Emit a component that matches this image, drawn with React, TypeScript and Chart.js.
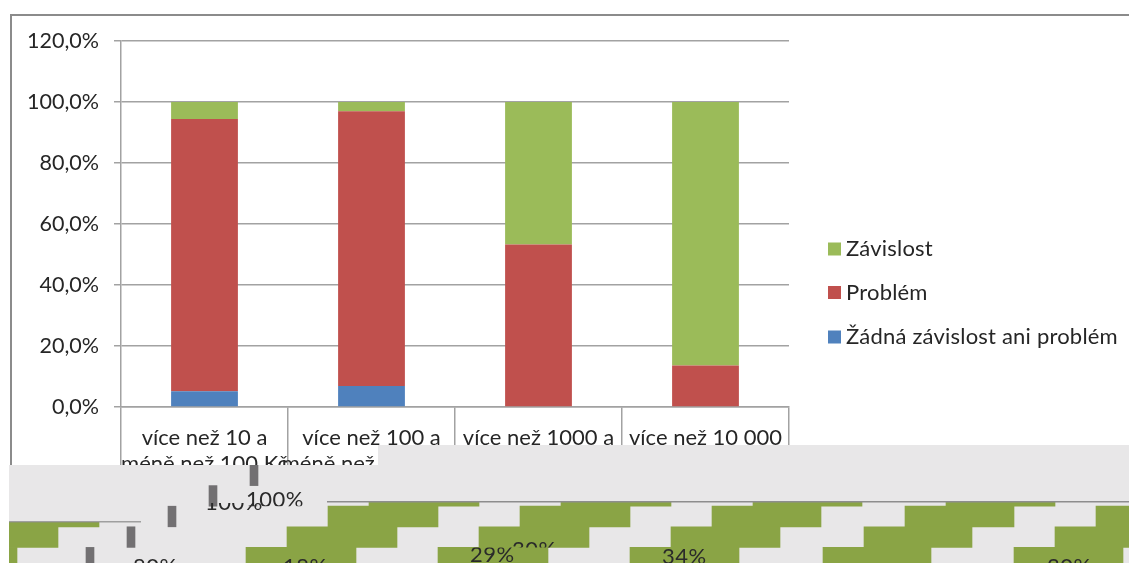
import React, { useEffect, useRef } from "react";
import { Chart, registerables } from "chart.js";

Chart.register(...registerables);

const categories = [
  ["více než 10 a", "méně než 100 Kč"],
  ["více než 100 a", "méně než 1000 Kč"],
  ["více než 1000 a", "méně než 10 000 Kč"],
  ["více než 10 000", "Kč"],
];
const noDependency = [5.2, 6.9, 0, 0];
const problem = [89.2, 90.1, 53.3, 13.6];
const dependency = [5.6, 3.0, 46.7, 86.4];

// Lower strip: stepped green blocks per row, as [from, to] ranges on the strip's axis.
const stripRows = ["r0", "r1", "r2", "r3", "r4"];
const stepsRow1 = [[369, 479], [561, 671], [753, 862], [946, 1055]];
const stepsRow2 = [[9, 99], [328, 438], [520, 630], [712, 821], [905, 1014], [1096, 1129]];
const stepsRow3 = [[9, 58], [287, 397], [479, 589], [671, 780], [864, 972], [1055, 1129]];
const stepsRow4 = [[9, 17], [246, 356], [438, 548], [630, 739], [823, 931], [1014, 1123]];
const markers = [[250, 258], [209, 217], [168, 176], [127, 135], [86, 94]];
const stripCaptions = ["100%", "100%", "80%", "18%", "29%", "30%", "34%", "30%"];

const FONT = "Lato";
const TEXT = "#262626";
const LINE = "#a2a2a2";

const captionSpots = [
  { x: 205, base: 510, top: 503, bottom: 563 },
  { x: 246, base: 507, top: 465, bottom: 506.2 },
  { x: 133, base: 574, top: 465, bottom: 563 },
  { x: 283, base: 574, top: 465, bottom: 563 },
  { x: 470, base: 562, top: 547.4, bottom: 563 },
  { x: 512, base: 557, top: 465, bottom: 547.4 },
  { x: 662, base: 564, top: 465, bottom: 563 },
  { x: 1047, base: 574, top: 465, bottom: 563 },
];

const legendPlugin = {
  id: "sideLegend",
  afterDraw(chart: any) {
    const { ctx } = chart;
    const rows = [249, 292.5, 337];
    const sets = [...chart.data.datasets].reverse();
    ctx.save();
    ctx.font = `22px ${FONT}`;
    ctx.textBaseline = "middle";
    ctx.textAlign = "left";
    (ctx as any).letterSpacing = "0.2px";
    sets.forEach((set: any, i: number) => {
      ctx.fillStyle = set.backgroundColor;
      ctx.fillRect(828, rows[i] - 6.5, 13, 13);
      ctx.fillStyle = TEXT;
      ctx.fillText(set.label, 846, rows[i]);
    });
    ctx.restore();
  },
};

const stripOverlay = {
  id: "stripOverlay",
  afterDatasetsDraw(chart: any) {
    const { ctx } = chart;
    const sx = chart.scales.x;
    const top = 465;
    const grey = "#e8e7e8";
    const rule = "#8d8d8d";
    ctx.save();
    // Upper bands hide the top of the stepped rows.
    ctx.fillStyle = grey;
    ctx.fillRect(sx.getPixelForValue(327), 0, chart.width, 502 - top);
    ctx.fillRect(sx.getPixelForValue(9), 505 - top, sx.getPixelForValue(141), 522 - 505);
    ctx.fillStyle = rule;
    ctx.fillRect(sx.getPixelForValue(327), 501 - top, chart.width, 1.5);
    ctx.fillRect(sx.getPixelForValue(9), 521.2 - top, sx.getPixelForValue(141), 1.2);
    ctx.restore();

    ctx.save();
    ctx.font = `22px ${FONT}`;
    ctx.fillStyle = "#2a2a2a";
    ctx.textAlign = "left";
    ctx.textBaseline = "alphabetic";
    (ctx as any).letterSpacing = "0.5px";
    stripCaptions.forEach((text, i) => {
      const s = captionSpots[i];
      ctx.save();
      ctx.beginPath();
      ctx.rect(0, s.top - top, chart.width, s.bottom - s.top);
      ctx.clip();
      ctx.fillText(text, sx.getPixelForValue(s.x), s.base - top);
      ctx.restore();
    });
    ctx.restore();
  },
};

const toItems = (row: string, ranges: number[][]) => ranges.map((r) => ({ x: r, y: row }));

export default function App() {
  const mainRef = useRef<HTMLCanvasElement>(null);
  const stripRef = useRef<HTMLCanvasElement>(null);

  useEffect(() => {
    const main = new Chart(mainRef.current!, {
      type: "bar",
      data: {
        labels: categories as any,
        datasets: [
          { label: "Žádná závislost ani problém", data: noDependency, backgroundColor: "#4f81bd" },
          { label: "Problém", data: problem, backgroundColor: "#c0504d" },
          { label: "Závislost", data: dependency, backgroundColor: "#9bbb59" },
        ],
      },
      options: {
        responsive: false,
        animation: false,
        layout: { padding: { top: 41, right: 340, left: 0, bottom: 0 } },
        datasets: { bar: { categoryPercentage: 0.4, barPercentage: 1 } },
        plugins: { legend: { display: false }, tooltip: { enabled: false } },
        scales: {
          x: {
            stacked: true,
            border: { color: LINE, width: 1.5 },
            grid: { drawOnChartArea: false, color: LINE, lineWidth: 1.5, tickLength: 70, offset: true },
            ticks: {
              padding: -53,
              color: TEXT,
              font: { family: FONT, size: 22, lineHeight: 1.22 },
              maxRotation: 0,
              minRotation: 0,
              autoSkip: false,
            },
            afterFit(scale: any) {
              scale.height = 563 - 407;
            },
          },
          y: {
            stacked: true,
            min: 0,
            max: 120,
            border: { color: LINE, width: 1.5 },
            grid: { color: LINE, lineWidth: 1.5, tickLength: 7 },
            ticks: {
              stepSize: 20,
              padding: 15,
              color: TEXT,
              font: { family: FONT, size: 21.5 },
              callback: (v: any) => `${Number(v).toFixed(1).replace(".", ",")}%`,
            },
            afterFit(scale: any) {
              scale.width = 121;
            },
          },
        },
      },
      plugins: [legendPlugin],
    } as any);

    const strip = new Chart(stripRef.current!, {
      type: "bar",
      data: {
        labels: stripRows,
        datasets: [
          {
            label: "steps",
            data: [
              ...toItems("r1", stepsRow1),
              ...toItems("r2", stepsRow2),
              ...toItems("r3", stepsRow3),
              ...toItems("r4", stepsRow4),
            ],
            backgroundColor: "#8aa445",
          },
          {
            label: "markers",
            data: markers.map((r, i) => ({ x: r, y: stripRows[i] })),
            backgroundColor: "#727072",
          },
        ],
      },
      options: {
        indexAxis: "y",
        responsive: false,
        animation: false,
        layout: { padding: 0 },
        datasets: { bar: { categoryPercentage: 1, barPercentage: 1, grouped: false } },
        plugins: { legend: { display: false }, tooltip: { enabled: false } },
        scales: {
          x: { type: "linear", min: 9, max: 1129, display: false },
          y: { type: "category", display: false },
        },
      },
      plugins: [stripOverlay],
    } as any);

    return () => {
      main.destroy();
      strip.destroy();
    };
  }, []);

  return (
    <div style={{ position: "fixed", left: 0, top: 0, width: 1129, height: 563, overflow: "hidden", background: "#fff" }}>
      <canvas ref={mainRef} width={1129} height={563} style={{ position: "absolute", left: 0, top: 0 }} />
      {/* Outer frame of the chart: top and left edges only */}
      <div
        style={{
          position: "absolute",
          left: 10,
          top: 14,
          width: 1119,
          height: 452,
          borderLeft: "2px solid #8b8b8b",
          borderTop: "2.5px solid #8b8b8b",
          boxSizing: "border-box",
        }}
      />
      <div style={{ position: "absolute", left: 378, top: 445, width: 751, height: 21, background: "#e8e7e8" }} />
      <canvas
        ref={stripRef}
        width={1120}
        height={103}
        style={{ position: "absolute", left: 9, top: 465, background: "#e8e7e8" }}
      />
    </div>
  );
}
